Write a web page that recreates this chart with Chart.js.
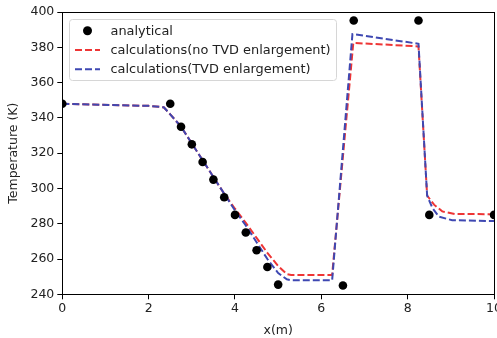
<!DOCTYPE html>
<html>
<head>
<meta charset="utf-8">
<script src="https://cdn.jsdelivr.net/npm/chart.js@4/dist/chart.umd.min.js"></script>
<style>
  html, body { margin: 0; padding: 0; background: #fff; overflow: hidden; }
  #wrap { position: absolute; left: 0; top: 0; width: 504px; height: 338px; }
</style>
</head>
<body>
<div id="wrap"><canvas id="chart" width="504" height="338"></canvas></div>
<script>
// analytical solution (dots)
const analyticalX = [0, 2.5, 2.75, 3.0, 3.25, 3.5, 3.75, 4.0, 4.25, 4.5, 4.75, 5.0, 6.5, 6.75, 8.25, 8.5, 10];
const analyticalT = [348, 348, 335, 325, 315, 305, 295, 285, 275, 265, 255.5, 245.5, 245, 395.2, 395.2, 285, 285];

// calculations without TVD enlargement (red dashed)
const noTvdX = [0, 2.0, 2.35, 2.5, 2.75, 3.0, 3.25, 3.5, 3.75, 4.0, 4.25, 4.5, 4.75, 5.0, 5.2, 5.3, 6.25, 6.74, 8.25, 8.45, 8.61, 8.8, 9.1, 10];
const noTvdT = [348, 346.8, 346, 342, 335, 325.5, 316, 306.5, 297, 288.5, 280.5, 272, 263.5, 256, 251.5, 251, 251, 382.5, 380.5, 296, 290.8, 287, 285.5, 285.4];

// calculations with TVD enlargement (blue dashed)
const tvdX = [0, 2.0, 2.35, 2.5, 2.75, 3.0, 3.25, 3.5, 3.75, 4.0, 4.25, 4.5, 4.75, 5.0, 5.2, 5.3, 6.25, 6.72, 8.25, 8.45, 8.57, 8.72, 9.03, 10];
const tvdT = [348, 346.8, 346, 342, 335, 325.5, 316, 306.5, 297, 287.5, 279, 269.5, 260, 252, 248.5, 248, 248, 387.5, 382, 296, 289, 284, 282, 281.5];

const xTicks = [0, 2, 4, 6, 8, 10];
const yTicks = [240, 260, 280, 300, 320, 340, 360, 380, 400];

const FONT = 'DejaVu Sans';
const TEXT = '#222';

function pts(xs, ys) {
    return xs.map((x, i) => ({ x: x, y: ys[i] }));
}

// matplotlib-like frame around the axes
const framePlugin = {
    id: 'frame',
    afterDraw(chart) {
        const a = chart.chartArea;
        const ctx = chart.ctx;
        ctx.save();
        ctx.strokeStyle = '#000';
        ctx.lineWidth = 1;
        ctx.strokeRect(Math.round(a.left) + 0.5, Math.round(a.top) + 0.5,
            Math.round(a.right - a.left), Math.round(a.bottom - a.top));
        ctx.restore();
    }
};

// legend box drawn inside the plot, upper left
const legendPlugin = {
    id: 'boxLegend',
    afterDraw(chart) {
        const ctx = chart.ctx;
        const x = 69.5, y = 19.5, w = 267, h = 61, r = 3;
        ctx.save();
        ctx.beginPath();
        ctx.moveTo(x + r, y);
        ctx.lineTo(x + w - r, y);
        ctx.arcTo(x + w, y, x + w, y + r, r);
        ctx.lineTo(x + w, y + h - r);
        ctx.arcTo(x + w, y + h, x + w - r, y + h, r);
        ctx.lineTo(x + r, y + h);
        ctx.arcTo(x, y + h, x, y + h - r, r);
        ctx.lineTo(x, y + r);
        ctx.arcTo(x, y, x + r, y, r);
        ctx.closePath();
        ctx.fillStyle = 'rgba(255,255,255,0.85)';
        ctx.fill();
        ctx.strokeStyle = '#d6d6d6';
        ctx.lineWidth = 1;
        ctx.stroke();

        const rows = [30.7, 50, 69.3];
        chart.data.datasets.forEach((ds, i) => {
            const ry = rows[i];
            if (ds.showLine === false) {
                ctx.beginPath();
                ctx.arc(87.5, ry, 4.5, 0, Math.PI * 2);
                ctx.fillStyle = ds.pointBackgroundColor;
                ctx.fill();
            } else {
                ctx.beginPath();
                ctx.setLineDash(ds.borderDash);
                ctx.moveTo(75, ry);
                ctx.lineTo(100, ry);
                ctx.strokeStyle = ds.borderColor;
                ctx.lineWidth = ds.borderWidth;
                ctx.stroke();
                ctx.setLineDash([]);
            }
            ctx.fillStyle = TEXT;
            ctx.font = '12.9px "' + FONT + '"';
            ctx.textBaseline = 'middle';
            ctx.textAlign = 'left';
            ctx.fillText(ds.label, 110.5, ry + 0.5);
        });
        ctx.restore();
    }
};

const ctx = document.getElementById('chart').getContext('2d');
new Chart(ctx, {
    type: 'scatter',
    data: {
        datasets: [{
            label: 'analytical',
            data: pts(analyticalX, analyticalT),
            showLine: false,
            pointRadius: 4.3,
            pointBackgroundColor: '#000',
            pointBorderWidth: 0,
            order: 0
        }, {
            label: 'calculations(no TVD enlargement)',
            data: pts(noTvdX, noTvdT),
            showLine: true,
            borderColor: '#ee3535',
            borderWidth: 2,
            borderDash: [7, 3],
            pointRadius: 0,
            tension: 0,
            order: 2
        }, {
            label: 'calculations(TVD enlargement)',
            data: pts(tvdX, tvdT),
            showLine: true,
            borderColor: '#3e48b2',
            borderWidth: 2,
            borderDash: [7, 3],
            pointRadius: 0,
            tension: 0,
            order: 1
        }]
    },
    options: {
        responsive: false,
        animation: false,
        events: [],
        layout: { padding: { top: 12, left: 0, right: 0, bottom: 0 } },
        plugins: {
            legend: { display: false },
            tooltip: { enabled: false }
        },
        scales: {
            x: {
                type: 'linear',
                min: 0,
                max: 10,
                afterBuildTicks: s => { s.ticks = xTicks.map(v => ({ value: v })); },
                afterFit: s => { s.height = 43.7; },
                grid: { display: true, drawOnChartArea: false, drawTicks: true, tickLength: 5, color: '#000' },
                border: { display: true, color: '#000', width: 1 },
                ticks: { color: TEXT, font: { family: FONT, size: 12.5 }, padding: 2, maxRotation: 0 },
                title: { display: true, text: 'x(m)', color: TEXT, font: { family: FONT, size: 12.5 }, padding: { top: 3, bottom: 0 } }
            },
            y: {
                type: 'linear',
                min: 240,
                max: 400,
                afterBuildTicks: s => { s.ticks = yTicks.map(v => ({ value: v })); },
                afterFit: s => { s.width = 62.3; },
                grid: { display: true, drawOnChartArea: false, drawTicks: true, tickLength: 5, color: '#000' },
                border: { display: true, color: '#000', width: 1 },
                ticks: { color: TEXT, font: { family: FONT, size: 12.5 }, padding: 3 },
                title: { display: true, text: 'Temperature (K)', color: TEXT, font: { family: FONT, size: 12.5 }, padding: { top: 6, bottom: 0 } }
            }
        }
    },
    plugins: [framePlugin, legendPlugin]
});
</script>
</body>
</html>
